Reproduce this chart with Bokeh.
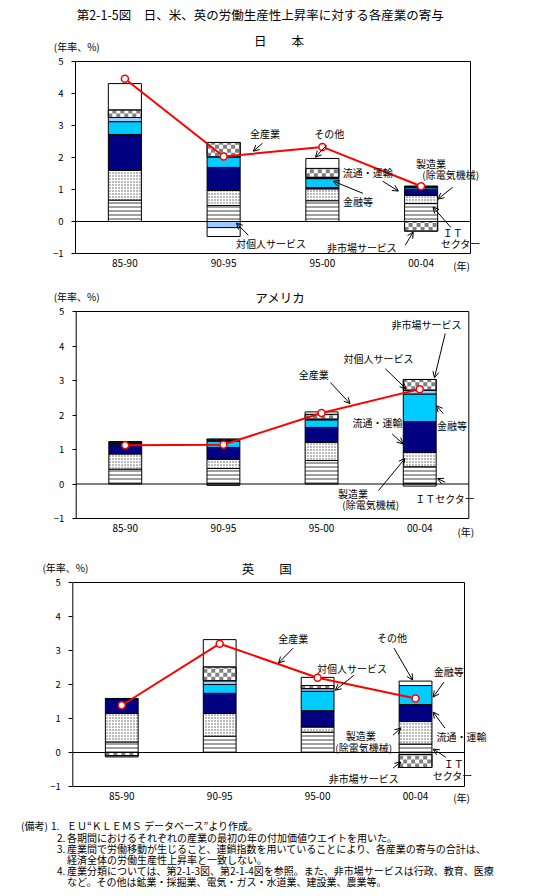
import math
from bokeh.plotting import figure
from bokeh.models import (Range1d, FixedTicker, Label, Arrow, OpenHead, LinearAxis,
                          ColumnDataSource, Div, BoxAnnotation)
from bokeh.layouts import column
from bokeh.embed import file_html
from bokeh.resources import INLINE

FONT = "Noto Sans CJK JP"

PERIODS = ["85-90", "90-95", "95-00", "00-04"]
SERIES = ["ＩＴセクター", "製造業（除電気機械）", "流通・運輸", "金融等",
          "対個人サービス", "非市場サービス", "その他"]

# ---- Japan ----
JP_IT = [0.67, 0.50, 0.65, 0.56]
JP_MFG = [0.93, 0.47, 0.37, 0.26]
JP_DIST = [1.12, 0.72, 0.04, 0.19]
JP_FIN = [0.40, 0.33, 0.28, 0.05]
JP_PERS = [0.13, -0.19, 0.04, 0.04]
JP_NONMKT = [0.24, 0.45, 0.28, -0.30]
JP_OTHER = [0.82, -0.28, 0.31, 0.00]
JP_TOTAL = [4.46, 2.03, 2.33, 1.10]

# ---- USA ----
US_IT = [0.43, 0.45, 0.68, 0.50]
US_MFG = [0.44, 0.27, 0.53, 0.42]
US_DIST = [0.27, 0.34, 0.43, 0.89]
US_FIN = [0.03, 0.18, 0.22, 0.80]
US_PERS = [0.02, 0.03, 0.02, 0.11]
US_NONMKT = [0.02, 0.03, 0.14, 0.31]
US_OTHER = [0.02, -0.04, 0.07, -0.06]
US_TOTAL = [1.12, 1.14, 2.06, 2.75]

# ---- UK ----
UK_IT = [0.31, 0.48, 0.60, 0.25]
UK_MFG = [0.84, 0.67, 0.15, 0.66]
UK_DIST = [0.41, 0.59, 0.48, 0.50]
UK_FIN = [0.02, 0.26, 0.57, 0.56]
UK_PERS = [0.01, 0.11, 0.08, -0.06]
UK_NONMKT = [-0.10, 0.41, 0.09, -0.38]
UK_OTHER = [-0.03, 0.80, 0.24, 0.13]
UK_TOTAL = [1.39, 3.20, 2.20, 1.59]

Y_TICKS = [-1, 0, 1, 2, 3, 4, 5]
Y_MIN, Y_MAX = -1, 5

TITLE = "第2-1-5図　日、米、英の労働生産性上昇率に対する各産業の寄与"
UNIT = "(年率、%)"
YEAR = "(年)"

NOTES = [
    ("(備考)", "1.", "ＥＵ“ＫＬＥＭＳ データベース”より作成。"),
    ("", "2.", "各期間におけるそれぞれの産業の最初の年の付加価値ウエイトを用いた。"),
    ("", "3.", "産業間で労働移動が生じること、連鎖指数を用いていることにより、各産業の寄与の合計は、"),
    ("", "", "経済全体の労働生産性上昇率と一致しない。"),
    ("", "4.", "産業分類については、第2-1-3図、第2-1-4図を参照。また、非市場サービスは行政、教育、医療"),
    ("", "", "など。その他は鉱業・採掘業、電気・ガス・水道業、建設業、農業等。"),
]

# annotation texts: (text, x, y) in data units (x: category slots 0..4)
JP_LABELS = [("全産業", 1.92, 2.76), ("その他", 2.57, 2.76), ("流通・運輸", 2.96, 1.54),
             ("金融等", 2.86, 0.63), ("製造業", 3.6, 1.82), ("(除電気機械)", 3.8, 1.48),
             ("ＩＴ", 3.82, -0.33), ("セクター", 3.9, -0.68), ("非市場サービス", 2.9, -0.8),
             ("対個人サービス", 1.98, -0.68)]
JP_ARROWS = [(1.894, 2.447, 1.80, 2.197), (2.54, 2.38, 2.43, 2.01), (3.11, 1.26, 3.27, 0.95),
             (2.91, 0.88, 2.61, 1.26), (3.82, 1.07, 3.67, 0.70), (3.80, -0.18, 3.62, 0.45),
             (3.34, -0.74, 3.42, -0.33), (1.75, -0.43, 1.63, -0.05)]

US_LABELS = [("非市場サービス", 3.57, 4.62), ("対個人サービス", 3.08, 3.63), ("全産業", 2.42, 3.17),
             ("流通・運輸", 3.07, 1.78), ("金融等", 3.83, 1.69), ("製造業", 2.82, -0.28),
             ("(除電気機械)", 3.0, -0.60), ("ＩＴセクター", 3.76, -0.43)]
US_ARROWS = [(3.76, 4.36, 3.65, 3.08), (3.15, 3.34, 3.36, 2.76), (2.59, 2.94, 2.79, 2.33),
             (3.22, 1.45, 3.33, 1.16), (3.74, 2.04, 3.67, 2.27), (3.08, -0.19, 3.35, 0.74),
             (3.76, 0.05, 3.68, 0.16)]

UK_LABELS = [("全産業", 2.25, 3.36), ("対個人サービス", 2.85, 2.48), ("その他", 3.26, 3.39),
             ("金融等", 3.84, 2.39), ("流通・運輸", 3.97, 0.48), ("製造業", 2.94, 0.51),
             ("(除電気機械)", 2.97, 0.16), ("ＩＴ", 3.89, -0.31), ("セクター", 3.88, -0.67),
             ("非市場サービス", 2.97, -0.75)]
UK_ARROWS = [(2.25, 3.07, 2.10, 2.63), (2.87, 2.27, 2.68, 1.83), (3.28, 3.07, 3.47, 2.13),
             (3.79, 2.07, 3.68, 1.63), (3.80, 0.72, 3.68, 1.19), (3.27, 0.51, 3.35, 0.72),
             (3.81, -0.14, 3.68, 0.10), (3.27, -0.46, 3.35, -0.28)]

STYLES = [
    dict(fill_color="white", hatch_pattern="-", hatch_color="#404040", hatch_scale=4, hatch_weight=1),
    dict(fill_color="white", hatch_pattern=".", hatch_color="#555555", hatch_scale=3, hatch_weight=1),
    dict(fill_color="#000080"),
    dict(fill_color="#00CCFF"),
    dict(fill_color="#99CCFF"),
    dict(fill_color="white"),   # checkered texture added below
    dict(fill_color="white"),
]
CHECKER_SERIES = SERIES.index("非市場サービス")
CHECKER_PX = 4          # checker cell size in pixels
CHECKER_COLOR = "#808080"

WIDTH = 554
BAR_W = 0.335
XPOS = [i + 0.5 for i in range(len(PERIODS))]
NCAT = len(PERIODS)


def add_text(p, text, x, y, size="10px", align="center"):
    p.add_layout(Label(x=x, y=y, text=text, text_font=FONT, text_font_size=size,
                       text_align=align, text_baseline="middle", text_color="black"))


def checker_cells(xc, b, t, dx, dy):
    x0, x1 = xc - BAR_W / 2, xc + BAR_W / 2
    lo, hi = min(b, t), max(b, t)
    L, R, B, T = [], [], [], []
    ncol = math.ceil((x1 - x0) / dx - 1e-9)
    nrow = math.ceil((hi - lo) / dy - 1e-9)
    for i in range(ncol):
        for j in range(nrow):
            if (i + j) % 2 == 0:
                L.append(x0 + i * dx); R.append(min(x0 + (i + 1) * dx, x1))
                B.append(lo + j * dy); T.append(min(lo + (j + 1) * dy, hi))
    return L, R, B, T


def make_panel(series, totals, height, box_px, name, name_xy, unit_xy, year_xy, labels, arrows):
    # box_px: (left, right, top, bottom) of the plot box in figure pixels
    left, right, top, bottom = box_px
    ux = (right - left) / NCAT
    uy = (bottom - top) / (Y_MAX - Y_MIN)
    xr = Range1d(-left / ux, NCAT + (WIDTH - right) / ux)
    yr = Range1d(Y_MIN - (height - bottom) / uy, Y_MAX + top / uy)
    p = figure(width=WIDTH, height=height, x_range=xr, y_range=yr,
               x_axis_location=None, y_axis_location=None,
               output_backend="svg", toolbar_location=None,
               min_border_left=0, min_border_right=0, min_border_top=0, min_border_bottom=0)
    p.background_fill_color = "white"
    p.border_fill_color = "white"
    p.outline_line_color = None
    p.grid.visible = False

    pos = [0.0] * NCAT
    neg = [0.0] * NCAT
    for s, vals in enumerate(series):
        bots, tops = [], []
        for i, v in enumerate(vals):
            if v >= 0:
                b = pos[i]; t = b + v; pos[i] = t
            else:
                b = neg[i]; t = b + v; neg[i] = t
            bots.append(b); tops.append(t)
        src = ColumnDataSource(dict(x=XPOS, bottom=bots, top=tops))
        p.vbar(x="x", bottom="bottom", top="top", width=BAR_W, source=src,
               line_color="black", line_width=1, **STYLES[s])
        if s == CHECKER_SERIES:
            L, R, B, T = [], [], [], []
            for xc, b, t in zip(XPOS, bots, tops):
                cl, cr, cb, ct = checker_cells(xc, b, t, CHECKER_PX / ux, CHECKER_PX / uy)
                L += cl; R += cr; B += cb; T += ct
            p.quad(left=L, right=R, bottom=B, top=T, fill_color=CHECKER_COLOR, line_color=None)
            p.vbar(x="x", bottom="bottom", top="top", width=BAR_W, source=src,
                   fill_color=None, line_color="black", line_width=1)

    # zero line across the plot box
    p.segment(x0=[0], y0=[0], x1=[NCAT], y1=[0], line_color="black", line_width=1)

    p.line(XPOS, totals, line_color="#FF0000", line_width=2)
    p.scatter(XPOS, totals, marker="circle", size=7, fill_color="white",
              line_color="#FF0000", line_width=1.5)

    p.add_layout(BoxAnnotation(left=0, right=NCAT, bottom=Y_MIN, top=Y_MAX,
                               fill_color=None, fill_alpha=0, line_color="black",
                               line_width=1, line_alpha=1))

    xaxis = LinearAxis(fixed_location=Y_MIN, ticker=FixedTicker(ticks=XPOS),
                       major_label_overrides={x: lab for x, lab in zip(XPOS, PERIODS)})
    xaxis.axis_line_color = None
    xaxis.major_tick_line_color = None
    xaxis.minor_tick_line_color = None
    xaxis.major_tick_out = 0
    xaxis.major_tick_in = 0
    xaxis.major_label_text_font = FONT
    xaxis.major_label_text_font_size = "10px"
    xaxis.major_label_standoff = 5
    xaxis.major_label_text_color = "black"
    p.add_layout(xaxis, "below")

    yaxis = LinearAxis(fixed_location=0, ticker=FixedTicker(ticks=Y_TICKS))
    yaxis.axis_line_color = None
    yaxis.major_tick_in = 0
    yaxis.major_tick_out = 4
    yaxis.minor_tick_line_color = None
    yaxis.major_label_text_font = FONT
    yaxis.major_label_text_font_size = "9.5px"
    yaxis.major_label_standoff = 8
    yaxis.major_label_text_color = "black"
    p.add_layout(yaxis, "left")

    add_text(p, name, name_xy[0], name_xy[1], size="12.5px")
    add_text(p, UNIT, unit_xy[0], unit_xy[1], size="10px", align="left")
    add_text(p, YEAR, year_xy[0], year_xy[1], size="10px")
    for t, x, y in labels:
        add_text(p, t, x, y)
    for xs, ys, xe, ye in arrows:
        p.add_layout(Arrow(end=OpenHead(size=6, line_width=1, line_color="black"),
                           x_start=xs, y_start=ys, x_end=xe, y_end=ye,
                           line_color="black", line_width=1))
    return p


p1 = make_panel([JP_IT, JP_MFG, JP_DIST, JP_FIN, JP_PERS, JP_NONMKT, JP_OTHER], JP_TOTAL,
                280, (75, 470, 61, 253), "日　　本", (2.06, 5.67), (-0.22, 5.48), (3.91, -1.37),
                JP_LABELS, JP_ARROWS)
add_text(p1, TITLE, 1.87, 6.48, size="12.5px")

p2 = make_panel([US_IT, US_MFG, US_DIST, US_FIN, US_PERS, US_NONMKT, US_OTHER], US_TOTAL,
                265, (75.7, 468.3, 31, 238), "アメリカ", (2.08, 5.40), (-0.23, 5.43), (3.97, -1.37),
                US_LABELS, US_ARROWS)

p3 = make_panel([UK_IT, UK_MFG, UK_DIST, UK_FIN, UK_PERS, UK_NONMKT, UK_OTHER], UK_TOTAL,
                265, (72.3, 464, 37, 241), "英　　国", (1.98, 5.42), (-0.31, 5.45), (3.97, -1.31),
                UK_LABELS, UK_ARROWS)

rows = []
for i, (pre, num, txt) in enumerate(NOTES):
    num_left = 51 if i == 0 else 57
    rows.append(
        '<div style="position:relative;height:11.2px;line-height:11.2px;padding-left:67px;white-space:nowrap;">'
        f'<span style="position:absolute;left:21px;top:0;">{pre}</span>'
        f'<span style="position:absolute;left:{num_left}px;top:0;">{num}</span>{txt}</div>')
html = (f'<div style="font-family:\'{FONT}\';font-size:10px;color:black;padding-top:10.4px;">'
        + "".join(rows) + "</div>")
notes = Div(text=html, width=WIDTH, height=86, margin=(0, 0, 0, 0))

layout = column(p1, p2, p3, notes, spacing=0)
open("out.html", "w").write(file_html(layout, INLINE))
